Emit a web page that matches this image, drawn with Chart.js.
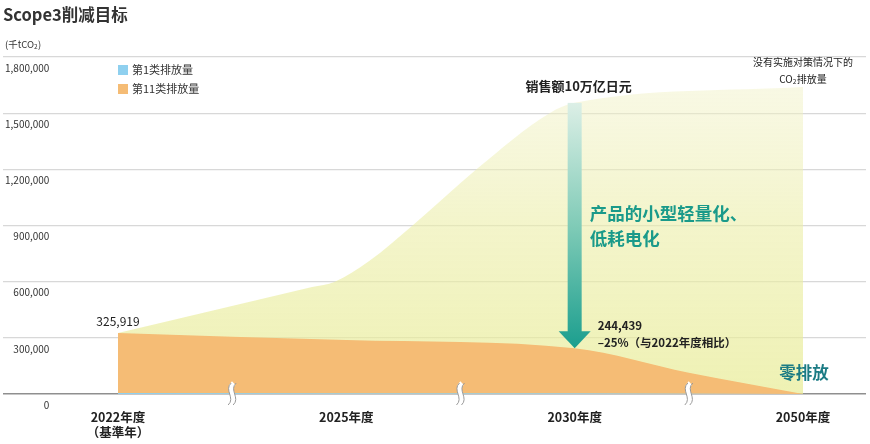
<!DOCTYPE html>
<html>
<head>
<meta charset="utf-8">
<script src="https://cdn.jsdelivr.net/npm/chart.js@4.4.1/dist/chart.umd.min.js"></script>
<style>
html, body { margin: 0; padding: 0; background: #fff; }
</style>
</head>
<body>
<canvas id="scopeChart" width="870" height="444"></canvas>
<script>
const FONT = "'Noto Sans CJK SC', 'Noto Sans', sans-serif";

// x = 0: 2022, 1: 2025, 2: 2030, 3: 2050 (axis is broken between them)
const categories = ["2022年度", "2025年度", "2030年度", "2050年度"];
const baseYearNote = "（基準年）";

const yTicks = [0, 300000, 600000, 900000, 1200000, 1500000, 1800000];

// emissions without measures (yellow area)
const noMeasureX = [0, 0.85, 0.95, 1.1, 1.29, 1.57, 1.89, 2, 3];
const noMeasureValues = [325919, 571000, 600000, 710000, 900000, 1200000, 1500000, 1555000, 1640000];

// category 11
const cat11X = [0, 1, 2, 2.5, 3];
const cat11Values = [325919, 288000, 244439, 113000, 0];

// category 1 (thin strip on the baseline)
const cat1X = [0, 1, 2, 3];
const cat1Values = [5000, 4500, 4000, 0];

const seriesLabels = ["第1类排放量", "第11类排放量", "没有实施对策情况下的CO₂排放量"];
const seriesColors = ["#8fd0ef", "#f5bc75"];

function toPoints(xs, ys) {
    return xs.map((x, i) => ({ x: x, y: ys[i] }));
}

function yellowFill(context) {
    const chart = context.chart;
    const area = chart.chartArea;
    if (!area) return "#eef1b5";
    const g = chart.ctx.createLinearGradient(0, area.top, 0, area.bottom);
    g.addColorStop(0, "rgba(242,242,205,0.45)");
    g.addColorStop(0.5, "rgba(236,238,170,0.62)");
    g.addColorStop(1, "rgba(232,236,150,0.72)");
    return g;
}

function text(ctx, str, x, y, size, weight, color, align) {
    ctx.font = weight + " " + size + "px " + FONT;
    ctx.fillStyle = color;
    ctx.textAlign = align || "left";
    ctx.textBaseline = "middle";
    ctx.fillText(str, x, y);
}

function drawBreak(ctx, cx, cy) {
    const s = (dx) => {
        ctx.beginPath();
        ctx.moveTo(cx + dx + 1.5, cy - 11);
        ctx.bezierCurveTo(cx + dx - 6, cy - 4, cx + dx + 6, cy + 4, cx + dx - 1.5, cy + 11);
    };
    ctx.strokeStyle = "#fff";
    ctx.lineWidth = 5;
    s(0);
    ctx.stroke();
    ctx.strokeStyle = "#9a9a9a";
    ctx.lineWidth = 1;
    s(-2.5);
    ctx.stroke();
    s(2.5);
    ctx.stroke();
}

const annotations = {
    id: "annotations",
    afterDatasetsDraw(chart) {
        const { ctx, scales: { x, y } } = chart;
        ctx.save();

        // axis breaks between the categories
        [0.5, 1.5, 2.5].forEach(v => drawBreak(ctx, x.getPixelForValue(v), y.getPixelForValue(0)));

        // arrow at 2030 from the no-measure line down to the target
        const ax = x.getPixelForValue(2);
        const top = y.getPixelForValue(noMeasureValues[noMeasureX.indexOf(2)]);
        const tip = y.getPixelForValue(cat11Values[cat11X.indexOf(2)]);
        const grad = ctx.createLinearGradient(0, top, 0, tip);
        grad.addColorStop(0, "#dcefe6");
        grad.addColorStop(0.5, "#80cbb7");
        grad.addColorStop(1, "#1b9e8e");
        ctx.fillStyle = grad;
        ctx.fillRect(ax - 7, top, 14, tip - top - 16);
        ctx.beginPath();
        ctx.moveTo(ax - 16, tip - 17);
        ctx.lineTo(ax + 16, tip - 17);
        ctx.lineTo(ax, tip);
        ctx.closePath();
        ctx.fill();

        // value labels
        const x0 = x.getPixelForValue(0);
        text(ctx, cat11Values[0].toLocaleString("en-US"), x0, y.getPixelForValue(cat11Values[0]) - 12, 12, "normal", "#222", "center");
        text(ctx, cat11Values[2].toLocaleString("en-US"), ax + 23, tip - 23, 11.5, "bold", "#222");
        text(ctx, "–25%（与2022年度相比）", ax + 23, tip - 6, 11.5, "bold", "#222");

        text(ctx, "销售额10万亿日元", ax + 4, 86, 13, "bold", "#222", "center");
        text(ctx, "产品的小型轻量化、", ax + 15, 213, 17.5, "bold", "#1a9a8a");
        text(ctx, "低耗电化", ax + 15, 238, 17.5, "bold", "#1a9a8a");

        const x3 = x.getPixelForValue(3);
        text(ctx, "零排放", x3 + 1, 373, 16.5, "bold", "#1b7b84", "center");

        ctx.restore();
    },
    afterDraw(chart) {
        const { ctx, scales: { x } } = chart;
        ctx.save();

        text(ctx, "Scope3削减目标", 3, 15, 16.5, "bold", "#333");

        // unit
        text(ctx, "(千tCO", 5, 44, 9.5, "normal", "#333");
        let w = ctx.measureText("(千tCO").width;
        text(ctx, "2", 5 + w, 47, 6.5, "normal", "#333");
        text(ctx, ")", 5 + w + 4, 44, 9.5, "normal", "#333");

        // legend
        const lx = x.getPixelForValue(0);
        seriesColors.forEach((c, i) => {
            const ly = 70 + i * 19;
            ctx.fillStyle = c;
            ctx.fillRect(lx, ly - 5, 10, 10);
            text(ctx, seriesLabels[i], lx + 14, ly, 11, "normal", "#333");
        });

        // note for the no-measure line
        const nx = x.getPixelForValue(3);
        text(ctx, "没有实施对策情况下的", nx, 62, 10, "normal", "#222", "center");
        ctx.font = "normal 10px " + FONT;
        const w1 = ctx.measureText("CO").width;
        const w2 = ctx.measureText("排放量").width;
        const sx = nx - (w1 + 4 + w2) / 2;
        text(ctx, "CO", sx, 79, 10, "normal", "#222");
        text(ctx, "2", sx + w1, 82, 6.5, "normal", "#222");
        text(ctx, "排放量", sx + w1 + 4, 79, 10, "normal", "#222");

        ctx.restore();
    }
};

const pxLeft = 3;
const pxRight = 866;
const unitPx = (803 - 118) / 3;
const xMin = -(118 - pxLeft) / unitPx;
const xMax = xMin + (pxRight - pxLeft) / unitPx;

new Chart(document.getElementById("scopeChart"), {
    type: "line",
    data: {
        datasets: [
            {
                label: seriesLabels[0],
                data: toPoints(cat1X, cat1Values),
                backgroundColor: seriesColors[0],
                borderWidth: 0,
                pointRadius: 0,
                fill: "origin"
            },
            {
                label: seriesLabels[1],
                data: toPoints(cat11X, cat11Values),
                backgroundColor: seriesColors[1],
                borderWidth: 0,
                pointRadius: 0,
                cubicInterpolationMode: "monotone",
                fill: "origin"
            },
            {
                label: seriesLabels[2],
                data: toPoints(noMeasureX, noMeasureValues),
                backgroundColor: yellowFill,
                borderWidth: 0,
                pointRadius: 0,
                cubicInterpolationMode: "monotone",
                fill: "origin"
            }
        ]
    },
    options: {
        responsive: false,
        animation: false,
        events: [],
        layout: { padding: { top: 57, left: pxLeft, right: 870 - pxRight, bottom: 0 } },
        plugins: {
            legend: { display: false },
            tooltip: { enabled: false }
        },
        scales: {
            x: {
                type: "linear",
                min: xMin,
                max: xMax,
                afterBuildTicks: scale => {
                    scale.ticks = categories.map((c, i) => ({ value: i }));
                },
                afterFit: scale => {
                    scale.height = 50;
                },
                grid: { display: false },
                border: { display: false },
                ticks: {
                    autoSkip: false,
                    maxRotation: 0,
                    padding: 8,
                    color: "#222",
                    font: { family: FONT, size: 12.5, weight: "bold" },
                    callback: value => value === 0 ? [categories[0], baseYearNote] : categories[value]
                }
            },
            y: {
                min: yTicks[0],
                max: yTicks[yTicks.length - 1],
                afterBuildTicks: scale => {
                    scale.ticks = yTicks.map(v => ({ value: v }));
                },
                afterFit: scale => {
                    scale.width = 0;
                },
                border: { display: false },
                grid: {
                    drawTicks: false,
                    color: ctx => ctx.tick.value === 0 ? "#8f8f8f" : "#d8d8d8",
                    lineWidth: ctx => ctx.tick.value === 0 ? 1.5 : 1.3
                },
                ticks: {
                    mirror: true,
                    crossAlign: "far",
                    padding: 2,
                    labelOffset: 11,
                    color: "#333",
                    font: { family: FONT, size: 10 },
                    callback: value => value.toLocaleString("en-US")
                }
            }
        }
    },
    plugins: [annotations]
});
</script>
</body>
</html>
